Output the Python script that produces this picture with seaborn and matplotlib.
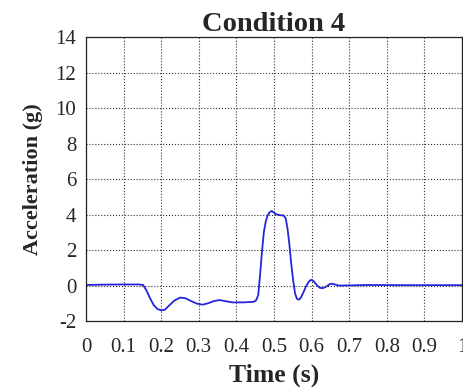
import matplotlib
matplotlib.use("Agg")
import matplotlib.pyplot as plt
import seaborn as sns
import pandas as pd

# Acceleration trace for condition 4
time_s = [0.0, 0.05, 0.10, 0.14, 0.152, 0.16, 0.17, 0.18, 0.19, 0.20, 0.21, 0.22,
          0.235, 0.25, 0.265, 0.28, 0.295, 0.31, 0.325, 0.34, 0.355, 0.37, 0.39,
          0.42, 0.445, 0.452, 0.458, 0.463, 0.468, 0.473, 0.478, 0.483, 0.488,
          0.494, 0.50, 0.508, 0.517, 0.525, 0.531, 0.536, 0.541, 0.546, 0.551,
          0.556, 0.561, 0.566, 0.571, 0.578, 0.585, 0.592, 0.598, 0.605, 0.614,
          0.622, 0.630, 0.640, 0.648, 0.655, 0.663, 0.672, 0.68, 0.75, 0.85, 1.0]
accel_g = [0.03, 0.05, 0.06, 0.06, 0.03, -0.25, -0.7, -1.1, -1.32, -1.4, -1.36, -1.15,
           -0.85, -0.68, -0.72, -0.88, -1.02, -1.08, -1.0, -0.88, -0.82, -0.88, -0.95,
           -0.95, -0.92, -0.85, -0.55, 0.6, 1.9, 3.0, 3.6, 3.95, 4.12,
           4.2, 4.1, 4.0, 3.96, 3.95, 3.8, 3.2, 2.3, 1.2, 0.3,
           -0.45, -0.75, -0.8, -0.7, -0.4, -0.05, 0.2, 0.32, 0.25, 0.02,
           -0.13, -0.15, -0.05, 0.08, 0.1, 0.05, 0.0, 0.0, 0.03, 0.02, 0.02]

x_ticks = [0, 0.1, 0.2, 0.3, 0.4, 0.5, 0.6, 0.7, 0.8, 0.9, 1]
x_tick_labels = ["0", "0.1", "0.2", "0.3", "0.4", "0.5", "0.6", "0.7", "0.8", "0.9", "1"]
y_ticks = [-2, 0, 2, 4, 6, 8, 10, 12, 14]
y_tick_labels = ["-2", "0", "2", "4", "6", "8", "10", "12", "14"]

df = pd.DataFrame({"Time (s)": time_s, "Acceleration (g)": accel_g})

sns.set_style("white")
plt.rcParams["font.family"] = ["Liberation Serif", "DejaVu Serif"]

fig = plt.figure(figsize=(4.64, 3.90), dpi=100)
ax = fig.add_axes([0.1853, 0.1769, 0.8104, 0.7281])

sns.lineplot(data=df, x="Time (s)", y="Acceleration (g)", ax=ax,
             color="#2525dd", linewidth=1.3)

ax.set_xlim(0, 1)
ax.set_ylim(-2, 14)
ax.set_xticks(x_ticks)
ax.set_xticklabels(x_tick_labels)
ax.set_yticks(y_ticks)
ax.set_yticklabels(y_tick_labels)
ax.tick_params(axis="both", labelsize=15, direction="in", length=3,
               width=0.6, color="#222222")
ax.tick_params(axis="x", pad=12)
ax.tick_params(axis="y", pad=7)

ax.grid(True, linestyle=":", color="#333333", linewidth=0.8)
for spine in ax.spines.values():
    spine.set_visible(True)
    spine.set_color("#222222")
    spine.set_linewidth(0.9)

ax.set_title("Condition 4", fontsize=20.5, fontweight="bold", pad=4)
ax.set_xlabel("Time (s)", fontsize=18.5, fontweight="bold", labelpad=5)
ax.set_ylabel("Acceleration (g)", fontsize=16, fontweight="bold", labelpad=9)

fig.savefig("out.png", dpi=100)
